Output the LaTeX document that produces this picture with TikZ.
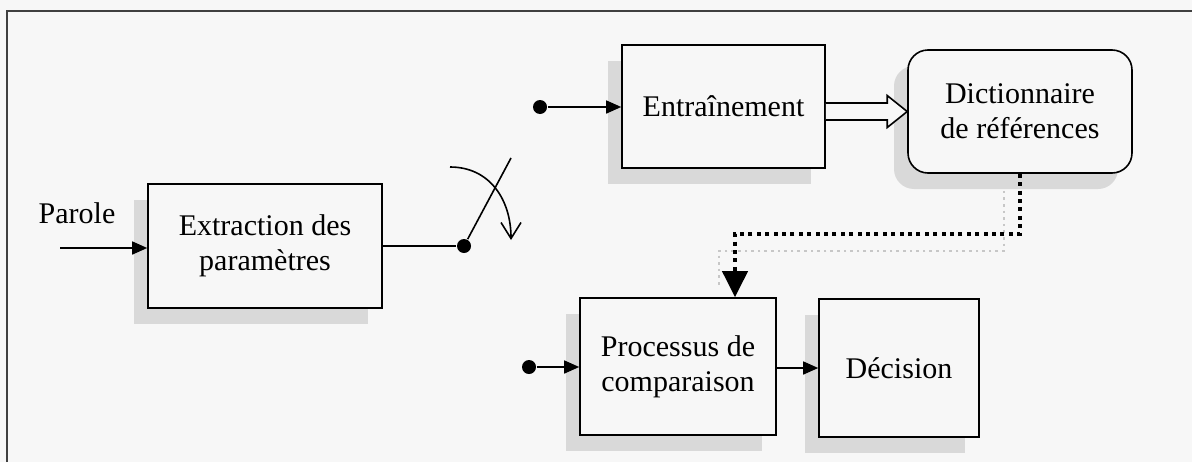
\documentclass[tikz,border=0pt]{standalone}
\usepackage{fontspec}
\setmainfont{Liberation Serif}
\usetikzlibrary{arrows.meta,shadows}

\begin{document}
\begin{tikzpicture}[x=0.5pt,y=0.5pt,line width=0.8pt,
    font=\fontsize{15pt}{17.5pt}\selectfont,
    bloc/.style={draw,fill=black!3,align=center,inner sep=2pt,
      drop shadow={shadow xshift=-7pt,shadow yshift=-8pt,fill=black!15,opacity=1}},
    lien/.style={-{Triangle[length=7.5pt,width=6.5pt]}},
    point/.style={circle,fill,inner sep=0pt,minimum size=7pt}]
        \useasboundingbox (0,0) rectangle (1192,462);
        \fill[black!3] (0,0) rectangle (1192,462);
        \draw[line width=1pt,black!75] (7,0)--(7,451)--(1192,451);

        % blocs
        \node[bloc,minimum width=117pt,minimum height=62pt] (extr) at (265,216) {Extraction des\\param\`etres};
        \node[bloc,minimum width=101.5pt,minimum height=61.5pt] (entr) at (723.5,355.5) {Entra\^inement};
        \node[bloc,rounded corners=10pt,minimum width=112pt,minimum height=61.5pt] (dico) at (1020,350.5) {Dictionnaire\\de r\'ef\'erences};
        \node[bloc,minimum width=98pt,minimum height=68.5pt] (proc) at (678,95.5) {Processus de\\comparaison};
        \node[bloc,minimum width=80pt,minimum height=69pt] (deci) at (899,94) {D\'ecision};

        % entree
        \node (parole) at (77,249) {Parole};
        \coordinate (entree) at (60,214);
        \draw[lien] (entree)--(extr.west|-entree);

        % interrupteur
        \node[point] (swdot) at (464,216) {};
        \coordinate (levier) at (511,304);
        \draw (extr.east|-swdot)--(swdot);
        \draw (swdot)--(levier);
        \draw[-{Straight Barb[length=8pt,width=10pt]}] (450,295) .. controls (490,295) and (511,262) .. (511,222);

        \node[point] (entrdot) at (540,355) {};
        \draw[lien] (entrdot)--(entr.west|-entrdot);
        \node[point] (procdot) at (529,95) {};
        \draw[lien] (procdot)--(proc.west|-procdot);
        \draw[lien] (proc.east|-deci.west)--(deci.west);

        % fleche double
        \coordinate (dbl) at (entr.east|-dico.west);
        \draw[fill=black!3] ([yshift=4.25pt]dbl)--([xshift=-10pt,yshift=4.25pt]dico.west)--([xshift=-10pt,yshift=8pt]dico.west)
            --(dico.west)--([xshift=-10pt,yshift=-8pt]dico.west)--([xshift=-10pt,yshift=-4.25pt]dico.west)--([yshift=-4.25pt]dbl);

        % references
        \draw[black!22,dotted,line width=1.3pt,transform canvas={xshift=-8pt,yshift=-8.5pt}]
            (dico.south)--++(0,-60)-|([xshift=28.5pt,yshift=13pt]proc.north);
        \draw[line width=2pt,dash pattern=on 2pt off 2.2pt,-{Triangle[length=13pt,width=12.5pt]}]
            (dico.south)--++(0,-60)-|([xshift=28.5pt]proc.north);
    \end{tikzpicture}
\end{document}
